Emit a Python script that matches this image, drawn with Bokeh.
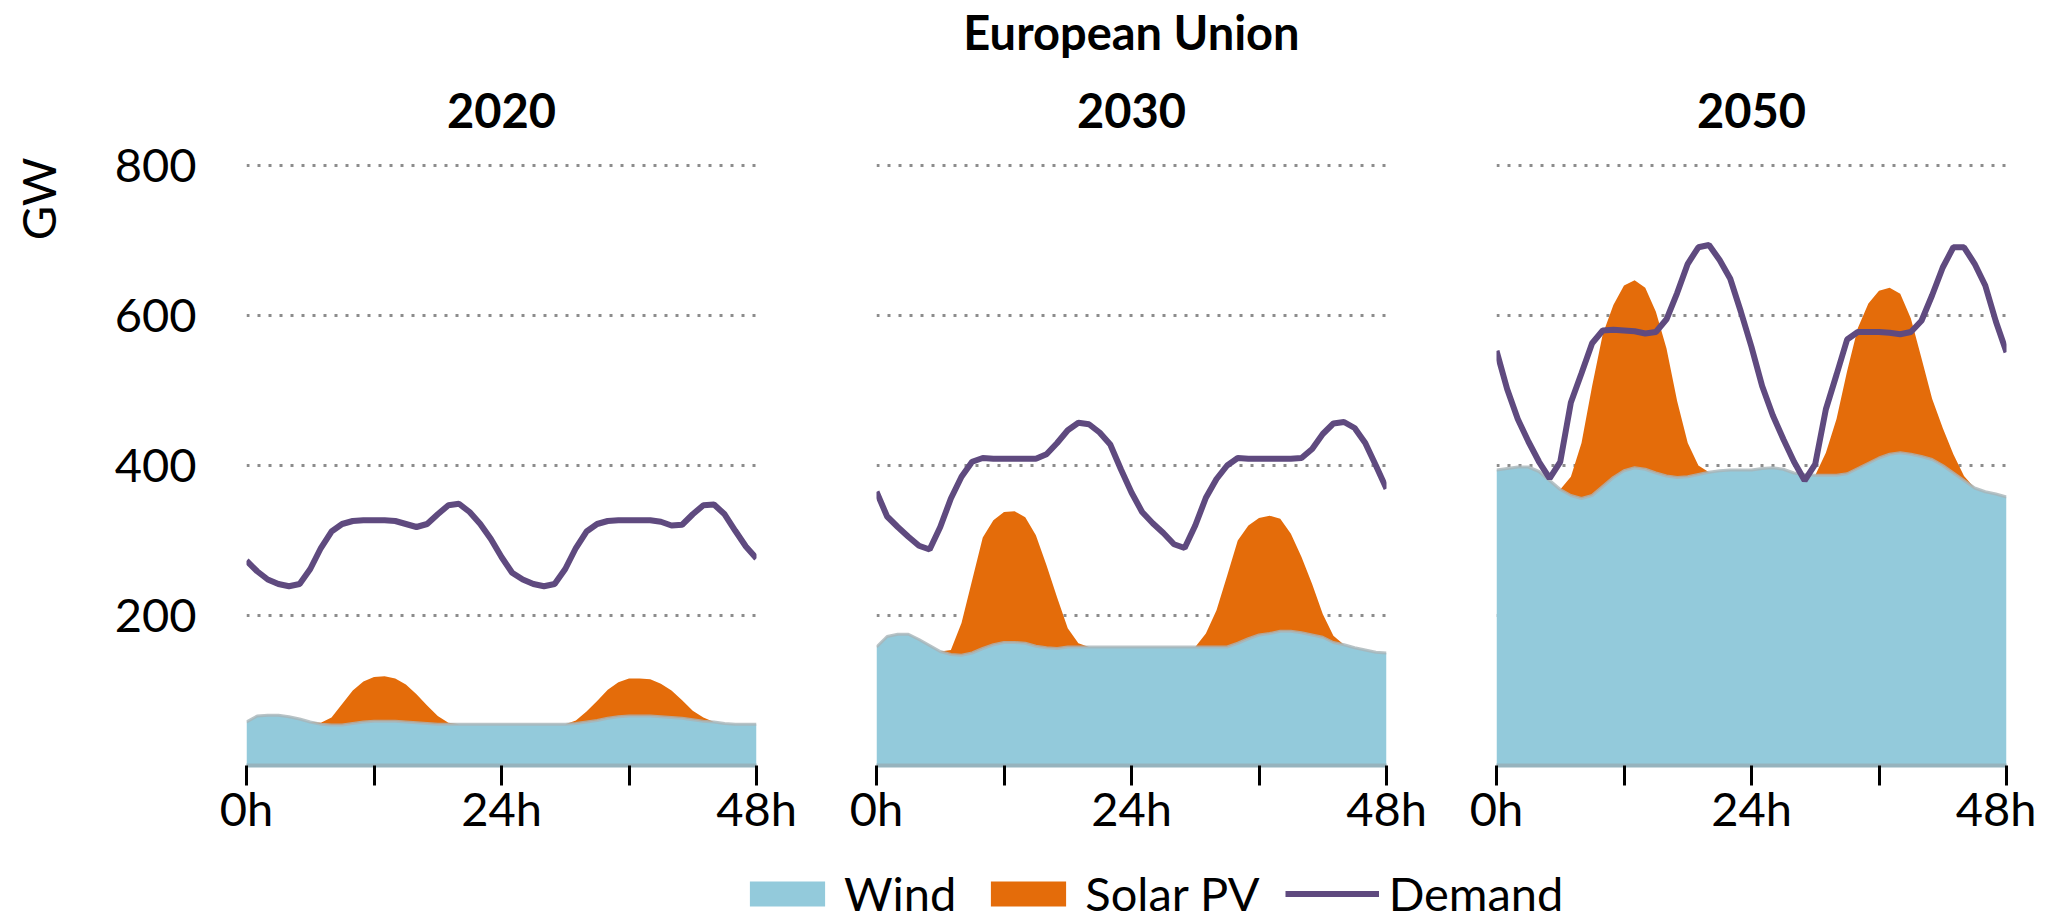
from bokeh.plotting import figure
from bokeh.models import ColumnDataSource, FixedTicker, Title, Legend, LegendItem, Label
from bokeh.layouts import row, column
from bokeh.embed import file_html
from bokeh.resources import INLINE

hours = list(range(49))
tick_labels = {0: "0h", 24: "24h", 48: "48h"}
y_ticks = [200, 400, 600, 800]
main_title = "European Union"
panel_titles = ["2020", "2030", "2050"]
y_unit = "GW"
series_names = ["Wind", "Solar PV", "Demand"]

wind_2020 = [58,66,67,67,65,62,58,55,54,54,56,58,59,59,59,58,57,56,55,
             55,55,55,55,55,55,55,55,55,55,55,55,
             56,58,60,63,65,66,66,66,65,64,63,61,59,58,56,55,55,55]
solar_2020 = [0,0,0,0,0,0,0,2,10,28,44,54,59,60,57,50,38,24,11,2,
              0,0,0,0,0,0,0,0,0,0,0,
              4,14,26,38,46,50,50,49,44,36,24,12,5,0,0,0,0,0]
demand_2020 = [273,259,248,242,239,242,262,290,312,322,
               326,327,327,327,326,322,318,322,335,347,
               349,338,322,302,278,257,248,242,239,242,
               262,290,312,322,326,327,327,327,327,325,
               320,321,335,347,348,335,313,292,276]

wind_2030 = [158,172,175,175,168,160,152,148,147,150,
             156,161,164,164,163,159,157,156,
             158,158,158,158,158,158,158,158,158,158,158,158,158,158,158,158,
             163,169,174,176,179,179,177,174,171,164,161,157,154,151,150]
solar_2030 = [0,0,0,0,0,0,0,6,43,97,148,166,174,175,168,148,110,68,25,5,
              0,0,0,0,0,0,0,0,0,0,0,
              18,49,95,137,151,156,157,150,130,101,68,31,9,0,0,0,0,0]
demand_2030 = [365,332,318,305,293,288,318,356,385,405,
               410,409,409,409,409,409,415,430,447,457,
               455,444,428,395,364,338,323,310,295,290,
               320,357,382,400,410,409,409,409,409,409,
               410,422,442,456,458,450,430,400,369]

wind_2050 = [394,396,398,398,392,380,368,360,356,360,
             372,384,393,397,395,390,386,384,385,388,
             391,393,394,394,394,396,397,395,390,388,
             387,387,387,389,396,403,410,415,417,415,
             412,408,400,390,380,370,365,362,358]
solar_2050 = [0,0,0,0,0,0,0,25,74,146,203,230,247,250,242,215,170,102,45,12,
              0,0,0,0,0,0,0,0,0,0,0,
              30,75,137,187,213,223,222,212,181,131,81,50,25,6,0,0,0,0]
demand_2050 = [553,502,462,432,405,383,405,484,523,563,
               580,581,580,579,576,578,595,630,669,691,
               694,674,649,605,558,506,467,435,405,380,
               402,475,521,568,578,578,578,577,575,578,
               593,627,664,691,691,669,640,592,551]

WIND = "#93cadb"
SOLAR = "#e46c0a"
DEMAND = "#5f4a7f"
GRID = "#8c8c8c"
FONT = "Lato"
FS = "47px"
DEMAND_W = 6

Y_END = 810.67
FRAME_H = 608
TOP = 157
BOTTOM = 85
GW_W = 77


def year_title(text, standoff):
    return Title(text=text, align="center", text_font=FONT, text_font_size=FS,
                 text_font_style="bold", text_color="black", standoff=standoff)


def make_panel(title_text, wind, solar, demand, left, right, show_y):
    top = [w + s for w, s in zip(wind, solar)]
    src = ColumnDataSource(dict(h=hours, wind=wind, top=top, demand=demand))
    p = figure(title=None, frame_width=510, frame_height=FRAME_H,
               x_range=(0, 48), y_range=(0, Y_END),
               output_backend="svg", toolbar_location=None,
               min_border_left=left, min_border_right=right,
               min_border_top=TOP, min_border_bottom=BOTTOM,
               y_axis_location="left" if show_y else None)
    p.outline_line_color = None
    p.xgrid.visible = False
    p.ygrid.ticker = FixedTicker(ticks=y_ticks)
    p.ygrid.grid_line_color = GRID
    p.ygrid.grid_line_width = 3
    p.ygrid.grid_line_dash = "3 8"

    ax = p.xaxis[0]
    ax.ticker = FixedTicker(ticks=[0, 24, 48], minor_ticks=[12, 36])
    ax.major_label_overrides = tick_labels
    ax.major_tick_in = 0
    ax.major_tick_out = 20
    ax.minor_tick_in = 0
    ax.minor_tick_out = 20
    ax.major_tick_line_width = 3
    ax.minor_tick_line_width = 3
    ax.major_tick_line_color = "black"
    ax.minor_tick_line_color = "black"
    ax.axis_line_color = "#96b3bd"
    ax.axis_line_width = 4
    ax.major_label_standoff = -6
    ax.major_label_text_font = FONT
    ax.major_label_text_font_size = FS
    ax.major_label_text_color = "black"

    if show_y:
        ay = p.yaxis[0]
        ay.ticker = FixedTicker(ticks=y_ticks)
        ay.major_tick_out = 0
        ay.major_tick_in = 0
        ay.axis_line_color = None
        ay.major_label_standoff = 50
        ay.major_label_text_font = FONT
        ay.major_label_text_font_size = FS
        ay.major_label_text_color = "black"

    p.varea(x="h", y1=0, y2="wind", source=src, fill_color=WIND)
    p.varea(x="h", y1="wind", y2="top", source=src, fill_color=SOLAR)
    p.line(x="h", y="wind", source=src, line_color="#a8b4b8", line_alpha=0.8, line_width=3)
    p.line(x="h", y="demand", source=src, line_color=DEMAND, line_width=DEMAND_W)

    p.add_layout(year_title(title_text, 60), "above")
    return p


# narrow strip holding the rotated unit label, sharing the panels' vertical scale
gw = figure(title=None, frame_width=GW_W, frame_height=FRAME_H, output_backend="svg",
            toolbar_location=None, x_axis_location=None, y_axis_location=None,
            x_range=(0, GW_W), y_range=(0, Y_END),
            min_border_left=0, min_border_right=0, min_border_top=TOP,
            min_border_bottom=BOTTOM)
gw.outline_line_color = None
gw.grid.visible = False
gw.add_layout(Label(x=37, y=Y_END, text=y_unit, angle=90, angle_units="deg",
                    text_align="right", text_baseline="middle", text_font=FONT,
                    text_font_size=FS, text_color="black"))

p1 = make_panel(panel_titles[0], wind_2020, solar_2020, demand_2020, 169, 60, True)
p2 = make_panel(panel_titles[1], wind_2030, solar_2030, demand_2030, 60, 50, False)
p3 = make_panel(panel_titles[2], wind_2050, solar_2050, demand_2050, 60, 30, False)
p2.add_layout(year_title(main_title, 2), "above")

total_w = GW_W + (169 + 510 + 60) + (60 + 510 + 50) + (60 + 510 + 30)

# legend strip: hidden copies of the 2030 series supply the legend swatches
lg = figure(title=None, frame_width=total_w, frame_height=71, output_backend="svg",
            toolbar_location=None, x_axis_location=None, y_axis_location=None,
            x_range=(0, 48), y_range=(0, Y_END),
            min_border_left=0, min_border_right=0, min_border_top=0, min_border_bottom=0)
lg.outline_line_color = None
lg.grid.visible = False
lsrc = ColumnDataSource(dict(h=hours, wind=wind_2030,
                             top=[w + s for w, s in zip(wind_2030, solar_2030)],
                             demand=demand_2030))
lw = lg.varea(x="h", y1=0, y2="wind", source=lsrc, fill_color=WIND, visible=False)
ls = lg.varea(x="h", y1="wind", y2="top", source=lsrc, fill_color=SOLAR, visible=False)
ld = lg.line(x="h", y="demand", source=lsrc, line_color=DEMAND, line_width=DEMAND_W,
             visible=False)
legend = Legend(items=[LegendItem(label=series_names[0], renderers=[lw]),
                       LegendItem(label=series_names[1], renderers=[ls]),
                       LegendItem(label=series_names[2], renderers=[ld])],
                location=(740, 0), orientation="horizontal",
                glyph_width=94, glyph_height=31, label_standoff=10, spacing=25,
                padding=0, margin=0, border_line_color=None, background_fill_alpha=0,
                inactive_fill_alpha=0,
                label_text_font=FONT, label_text_font_size=FS, label_text_color="black")
lg.add_layout(legend, "center")

layout = column(row(gw, p1, p2, p3), lg)
open("out.html", "w").write(file_html(layout, INLINE))
